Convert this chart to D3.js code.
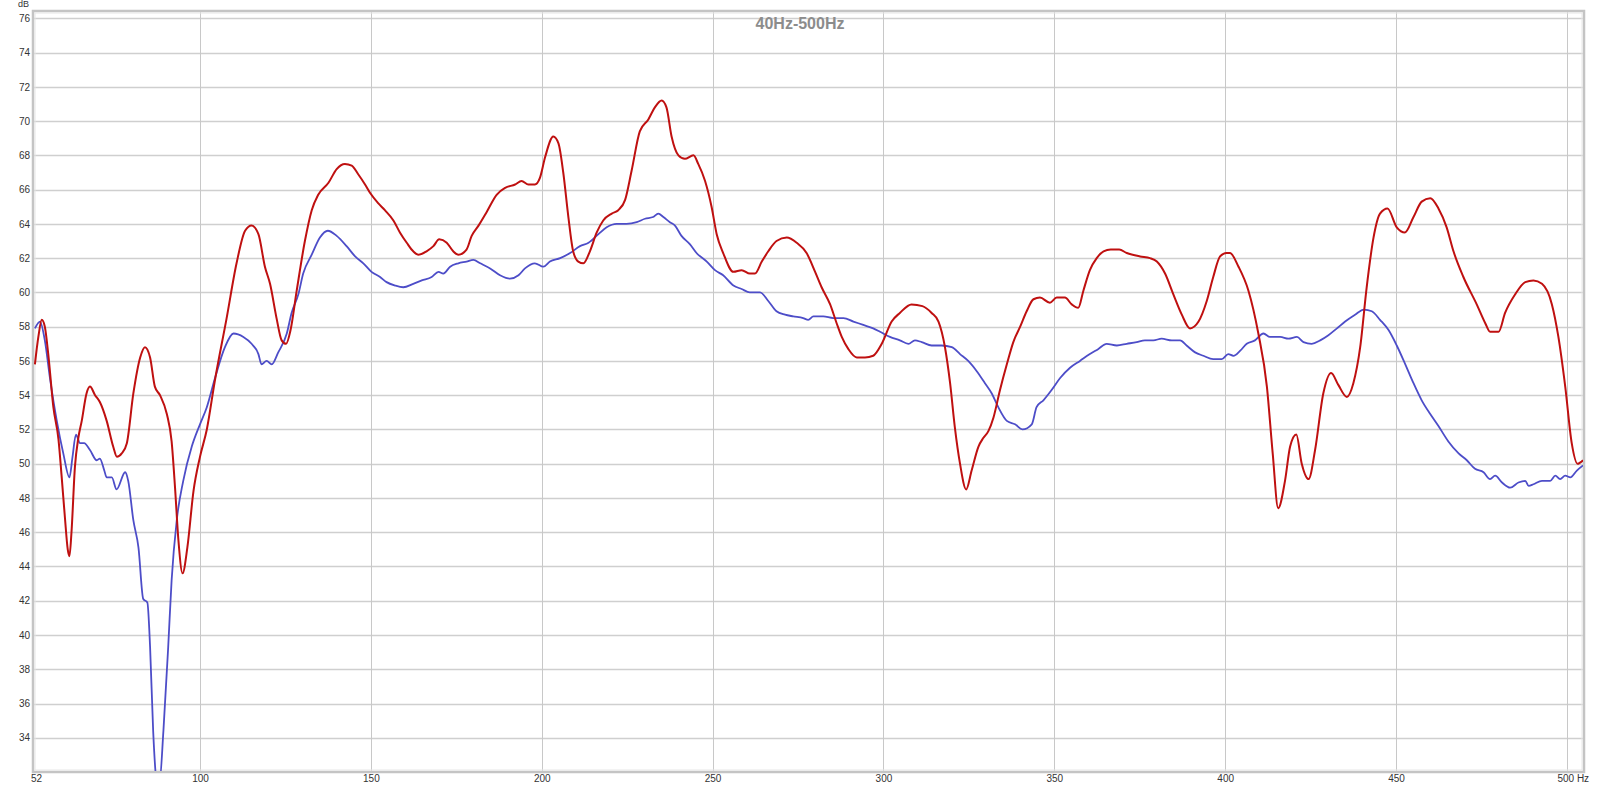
<!DOCTYPE html>
<html>
<head>
<meta charset="utf-8">
<script src="https://cdn.jsdelivr.net/npm/d3@7"></script>
<style>
  html, body { margin: 0; padding: 0; background: #fff; }
  svg { display: block; }
  text { font-family: "Liberation Sans", Arial, sans-serif; }
</style>
</head>
<body>
<svg id="chart" width="1600" height="789"></svg>
<script>
// ---- data ----
const title = "40Hz-500Hz";
const yUnit = "dB";
const xTickValues = [52, 100, 150, 200, 250, 300, 350, 400, 450, 500];
const xTickLabels = ["52", "100", "150", "200", "250", "300", "350", "400", "450", "500 Hz"];
const yTickValues = [34, 36, 38, 40, 42, 44, 46, 48, 50, 52, 54, 56, 58, 60, 62, 64, 66, 68, 70, 72, 74, 76];

const redFreq = [51.7,52.7,53.7,54.6,55.6,57.1,58.6,59.5,60.5,61.3,61.8,62.4,63.4,64.4,65.4,66.8,67.8,69.3,70.7,72.7,74.6,75.7,77.1,78.6,80.5,82.5,83.9,85.4,86.8,88.3,90.3,91.7,92.7,93.7,94.9,96.3,98.1,100.0,102.0,104.4,107.8,110.7,113.2,115.1,117.1,119.0,120.5,122.4,123.9,125.2,126.5,128.3,130.7,132.7,134.6,137.6,140.0,142.4,144.4,146.3,148.3,149.8,152.2,154.1,156.6,158.5,160.5,162.4,163.9,166.3,168.3,170.0,172.2,174.1,175.6,178.0,179.5,181.5,183.9,186.8,189.3,192.2,194.1,196.1,198.0,199.5,201.0,203.4,204.9,206.3,207.8,209.2,210.7,212.2,214.1,216.1,218.0,220.5,222.4,224.4,226.3,228.7,231.2,233.1,235.1,236.5,238.0,240.0,241.9,244.4,245.8,247.8,249.7,251.2,253.1,256.1,258.5,260.9,262.4,264.4,266.3,268.7,271.7,274.6,277.5,280.0,281.9,284.4,286.3,287.8,289.7,292.2,294.6,297.0,299.5,302.4,304.8,308.2,311.4,314.1,316.1,318.0,319.5,320.9,322.4,324.2,325.8,327.8,329.2,330.7,332.2,334.1,336.1,338.0,340.0,341.9,343.9,345.8,348.7,350.7,353.1,355.1,357.0,358.5,360.4,362.4,364.4,366.5,369.0,371.2,375.1,378.0,380.0,382.4,384.8,387.3,389.7,392.2,394.6,396.5,398.5,400.4,401.4,403.9,406.8,409.7,412.2,413.9,415.5,417.5,419.0,420.8,422.4,424.4,426.3,428.7,431.0,433.1,435.6,437.5,439.5,441.4,443.4,445.3,447.5,450.2,452.6,455.1,457.5,460.0,462.4,464.8,466.8,469.7,473.6,476.1,477.5,480.0,481.9,484.9,487.8,490.2,492.7,495.6,497.5,499.5,501.4,503.1,504.7];
const redDb = [55.8,57.4,58.4,58.0,56.4,53.3,51.4,49.3,46.8,45.0,44.6,46.0,49.8,51.5,52.5,54.1,54.5,54.0,53.6,52.5,51.0,50.4,50.6,51.2,54.1,56.2,56.8,56.2,54.5,54.0,52.9,51.3,48.6,45.5,43.6,45.1,48.4,50.4,52.0,54.9,58.5,61.7,63.6,63.9,63.4,61.5,60.5,58.5,57.2,57.0,57.8,60.1,63.0,64.8,65.7,66.4,67.2,67.5,67.4,66.9,66.3,65.8,65.2,64.8,64.2,63.5,62.9,62.4,62.2,62.4,62.7,63.1,62.9,62.4,62.2,62.5,63.3,63.9,64.7,65.7,66.1,66.3,66.5,66.3,66.3,66.7,67.9,69.1,68.7,67.0,64.4,62.4,61.8,61.7,62.4,63.5,64.2,64.6,64.8,65.4,67.1,69.4,70.1,70.8,71.2,70.8,69.1,68.0,67.8,68.0,67.5,66.5,65.0,63.4,62.3,61.2,61.3,61.1,61.1,61.8,62.4,63.0,63.2,62.9,62.3,61.2,60.3,59.3,58.2,57.4,56.7,56.2,56.2,56.3,57.0,58.3,58.8,59.3,59.2,58.8,58.3,56.8,54.7,52.1,50.0,48.5,49.6,51.0,51.5,51.9,52.7,54.3,55.8,57.1,58.0,58.9,59.6,59.7,59.4,59.7,59.7,59.3,59.1,60.1,61.3,62.0,62.4,62.5,62.5,62.3,62.1,62.0,61.8,61.1,59.9,58.7,57.9,58.3,59.5,60.9,62.1,62.3,62.3,61.5,60.1,57.6,54.5,50.6,47.4,49.0,51.0,51.7,50.0,49.1,50.8,54.1,55.3,54.6,53.9,54.7,56.8,60.3,63.2,64.6,64.9,63.8,63.5,64.4,65.3,65.5,64.9,63.8,62.4,60.9,59.3,58.2,57.7,57.7,58.8,59.9,60.6,60.7,60.5,59.3,57.4,54.5,51.2,50.0,50.2];

const blueFreq = [51.7,53.2,54.6,56.1,58.1,60.0,61.8,62.7,63.7,64.9,66.1,67.8,69.8,70.7,72.0,72.7,74.2,75.6,78.1,79.0,80.5,82.0,83.4,84.6,85.4,86.3,87.3,88.1,89.3,90.7,91.7,93.2,95.1,97.6,100.0,102.0,104.4,107.3,109.8,112.7,115.1,117.1,118.0,119.5,121.0,122.9,125.4,126.8,128.8,130.2,132.7,135.1,137.4,140.0,142.9,145.4,147.8,150.2,152.7,154.6,157.1,159.5,162.4,164.9,167.8,169.8,171.2,173.2,175.6,178.0,180.0,182.0,184.9,187.8,190.7,193.2,195.1,198.0,200.5,202.4,205.4,208.3,211.2,213.7,216.6,219.0,221.9,224.8,227.8,230.2,232.6,234.1,235.6,237.5,239.0,240.9,243.4,245.3,248.3,250.7,253.1,256.1,258.5,260.9,263.9,266.3,268.7,271.2,273.6,276.5,278.0,279.5,282.4,285.3,288.3,291.2,294.1,297.0,299.0,301.9,304.8,307.3,309.2,311.2,314.1,317.0,320.0,322.4,324.8,327.3,329.7,331.7,333.6,336.1,338.5,340.7,343.4,344.8,346.8,349.2,351.7,354.6,357.5,360.4,362.9,365.3,368.3,371.2,374.1,376.5,379.0,381.4,384.4,386.8,388.7,391.2,393.6,396.5,399.0,400.9,402.4,404.4,406.3,408.7,411.2,413.1,416.1,418.5,421.0,422.9,425.3,427.8,430.2,432.7,435.1,438.0,440.6,442.9,445.3,447.8,450.2,452.7,455.1,457.5,460.0,462.4,465.3,468.3,470.7,473.1,475.6,477.5,479.0,481.0,483.4,485.8,487.8,488.8,490.2,492.7,495.1,496.6,498.0,499.5,501.0,502.9,504.7];
const blueDb = [57.9,58.3,57.2,55.0,52.5,50.6,49.2,50.4,51.7,51.2,51.2,50.8,50.2,50.3,49.6,49.2,49.2,48.5,49.5,49.0,46.7,45.1,42.1,41.9,39.3,34.4,31.5,31.3,34.4,39.3,43.2,46.7,49.0,51.0,52.3,53.3,55.0,56.8,57.6,57.4,57.0,56.4,55.8,56.0,55.8,56.5,57.6,58.8,59.9,61.1,62.2,63.2,63.6,63.3,62.7,62.1,61.7,61.2,60.9,60.6,60.4,60.3,60.5,60.7,60.9,61.2,61.1,61.5,61.7,61.8,61.9,61.7,61.4,61.0,60.8,61.0,61.4,61.7,61.5,61.8,62.0,62.3,62.7,62.9,63.4,63.8,64.0,64.0,64.1,64.3,64.4,64.6,64.4,64.1,63.9,63.3,62.8,62.3,61.8,61.3,61.0,60.4,60.2,60.0,60.0,59.5,58.9,58.7,58.6,58.5,58.4,58.6,58.6,58.5,58.5,58.3,58.1,57.9,57.7,57.4,57.2,57.0,57.2,57.1,56.9,56.9,56.8,56.4,56.0,55.4,54.7,54.1,53.3,52.5,52.3,52.0,52.3,53.3,53.7,54.3,55.0,55.6,56.0,56.4,56.7,57.0,56.9,57.0,57.1,57.2,57.2,57.3,57.2,57.2,56.9,56.5,56.3,56.1,56.1,56.4,56.3,56.6,57.0,57.2,57.6,57.4,57.4,57.3,57.4,57.1,57.0,57.2,57.5,57.9,58.3,58.7,59.0,58.9,58.4,57.8,56.9,55.8,54.7,53.7,52.9,52.2,51.3,50.6,50.2,49.7,49.5,49.1,49.3,48.9,48.6,48.9,49.0,48.7,48.8,49.0,49.0,49.3,49.1,49.3,49.2,49.6,49.9];

// ---- layout ----
const plot = { left: 34, top: 12, right: 1583, bottom: 771 };
const svg = d3.select("#chart");

const x = d3.scaleLinear().domain([51.43, 504.7]).range([plot.left, plot.right]);
const y = d3.scaleLinear().domain([32.06, 76.37]).range([plot.bottom, plot.top]);

// clip path
svg.append("defs").append("clipPath").attr("id", "clip")
  .append("rect").attr("x", plot.left).attr("y", plot.top)
  .attr("width", plot.right - plot.left).attr("height", plot.bottom - plot.top);

// grid
const grid = svg.append("g");
grid.selectAll("line.h").data(yTickValues).enter().append("line")
  .attr("x1", plot.left).attr("x2", plot.right)
  .attr("y1", d => Math.round(y(d)) + 0.5).attr("y2", d => Math.round(y(d)) + 0.5)
  .attr("stroke", "#cfcfcf").attr("stroke-width", 1.3);
grid.selectAll("line.v").data(xTickValues.slice(1)).enter().append("line")
  .attr("y1", plot.top).attr("y2", plot.bottom)
  .attr("x1", d => Math.round(x(d)) + 0.5).attr("x2", d => Math.round(x(d)) + 0.5)
  .attr("stroke", "#c8c8c8").attr("stroke-width", 1);

// frame
svg.append("rect")
  .attr("x", plot.left - 1).attr("y", plot.top - 1)
  .attr("width", plot.right - plot.left + 2).attr("height", plot.bottom - plot.top + 2)
  .attr("fill", "none").attr("stroke", "#c4c4c4").attr("stroke-width", 2.5);
svg.append("rect")
  .attr("x", plot.left + 1).attr("y", plot.top + 1)
  .attr("width", plot.right - plot.left - 2).attr("height", plot.bottom - plot.top - 2)
  .attr("fill", "none").attr("stroke", "#e6e6e6").attr("stroke-width", 1);

// title
svg.append("text").attr("x", 800).attr("y", 29).attr("text-anchor", "middle")
  .attr("font-size", 16).attr("font-weight", "bold").attr("fill", "#8c8c8c")
  .text(title);

// curves
const line = d3.line().x(d => x(d[0])).y(d => y(d[1])).curve(d3.curveMonotoneX);
const curves = svg.append("g").attr("clip-path", "url(#clip)");
curves.append("path").datum(d3.zip(blueFreq, blueDb)).attr("d", line)
  .attr("fill", "none").attr("stroke", "#4d4dc8").attr("stroke-width", 1.8)
  .attr("stroke-linejoin", "round");
curves.append("path").datum(d3.zip(redFreq, redDb)).attr("d", line)
  .attr("fill", "none").attr("stroke", "#bf1010").attr("stroke-width", 2)
  .attr("stroke-linejoin", "round");

// y axis labels
const yAxis = d3.axisLeft(y).tickValues(yTickValues).tickSize(0).tickPadding(0);
const gy = svg.append("g").attr("transform", `translate(${plot.left - 4},0)`).call(yAxis);
gy.select(".domain").remove();
gy.selectAll("text").attr("font-size", 10).attr("fill", "#333")
  .attr("font-family", "'Liberation Sans', Arial, sans-serif");

svg.append("text").attr("x", 29).attr("y", 7).attr("text-anchor", "end")
  .attr("font-size", 9).attr("fill", "#333").text(yUnit);

// x axis labels
const xAxis = d3.axisBottom(x).tickValues(xTickValues)
  .tickFormat((d, i) => xTickLabels[i]).tickSize(0).tickPadding(0);
const gx = svg.append("g").attr("transform", `translate(0,${plot.bottom + 4})`).call(xAxis);
gx.select(".domain").remove();
gx.selectAll("text").attr("font-size", 10).attr("fill", "#333")
  .attr("font-family", "'Liberation Sans', Arial, sans-serif");
gx.selectAll("text").filter((d, i) => i === xTickLabels.length - 1)
  .attr("text-anchor", "start").attr("dx", -10);
</script>
</body>
</html>
